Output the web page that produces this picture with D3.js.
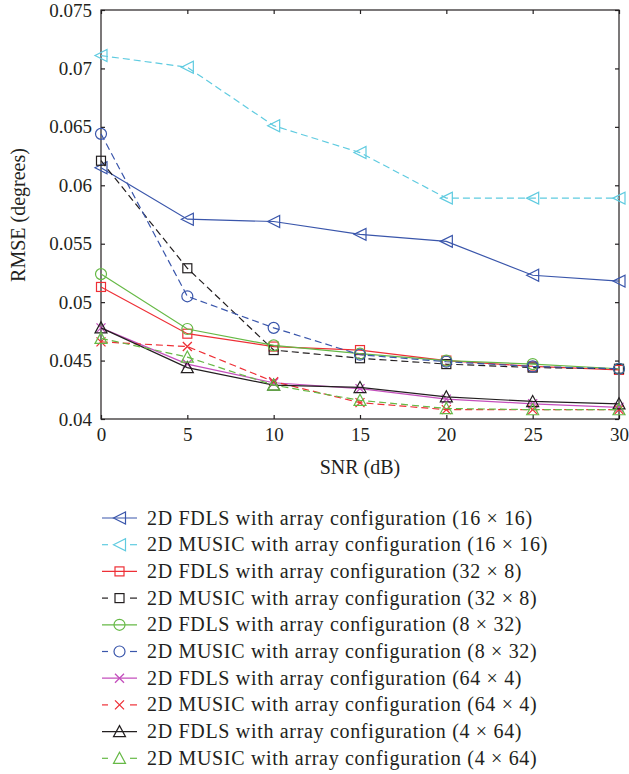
<!DOCTYPE html>
<html><head><meta charset="utf-8">
<script src="https://cdn.jsdelivr.net/npm/d3@7"></script>
<style>body{margin:0;background:#fff}svg{display:block}text{font-family:"Liberation Serif","DejaVu Serif",serif;fill:#231f20}</style>
</head><body><svg id="c" width="629" height="774"></svg>
<script>
const snr = [0, 5, 10, 15, 20, 25, 30];
const xTicks = [0, 5, 10, 15, 20, 25, 30];
const yTicks = [0.04, 0.045, 0.05, 0.055, 0.06, 0.065, 0.07, 0.075];
const yTickLabels = ["0.04", "0.045", "0.05", "0.055", "0.06", "0.065", "0.07", "0.075"];
const labels = [
  "2D FDLS with array configuration (16 × 16)",
  "2D MUSIC with array configuration (16 × 16)",
  "2D FDLS with array configuration (32 × 8)",
  "2D MUSIC with array configuration (32 × 8)",
  "2D FDLS with array configuration (8 × 32)",
  "2D MUSIC with array configuration (8 × 32)",
  "2D FDLS with array configuration (64 × 4)",
  "2D MUSIC with array configuration (64 × 4)",
  "2D FDLS with array configuration (4 × 64)",
  "2D MUSIC with array configuration (4 × 64)"
];
const fdls16x16  = [0.0615, 0.0571, 0.0569, 0.0558, 0.0552, 0.0523, 0.0518];
const music16x16 = [0.0711, 0.0701, 0.0651, 0.0628, 0.0589, 0.0589, 0.0589];
const fdls32x8   = [0.0513, 0.0473, 0.0462, 0.0459, 0.0450, 0.0445, 0.0442];
const music32x8  = [0.0621, 0.0529, 0.0459, 0.0452, 0.0447, 0.0444, 0.0443];
const fdls8x32   = [0.0524, 0.0477, 0.0463, 0.0456, 0.0450, 0.0447, 0.0443];
const music8x32  = [0.0644, 0.0505, 0.0478, 0.0455, 0.0449, 0.0445, 0.0443];
const fdls64x4   = [0.0478, 0.0447, 0.0431, 0.0426, 0.0417, 0.0413, 0.0410];
const music64x4  = [0.0466, 0.0462, 0.0432, 0.0414, 0.0408, 0.0408, 0.0408];
const fdls4x64   = [0.0478, 0.0444, 0.0429, 0.0427, 0.0419, 0.0415, 0.0413];
const music4x64  = [0.0469, 0.0453, 0.0429, 0.0416, 0.0409, 0.0408, 0.0408];

const seriesValues = [fdls16x16, music16x16, fdls32x8, music32x8, fdls8x32, music8x32, fdls64x4, music64x4, fdls4x64, music4x64];
const colors = ["#3a56ab", "#5fcbe0", "#ee2f36", "#231f20", "#66b946", "#3a56ab", "#c44fbd", "#ee2f36", "#231f20", "#66b946"];
const dashed = [false, true, false, true, false, true, false, true, false, true];
const markers = ["ltri", "ltri", "square", "square", "circle", "circle", "x", "x", "utri", "utri"];

const svg = d3.select("#c");
const m = {l: 101, t: 10, r: 619, b: 419};
const x = d3.scaleLinear().domain([0, 30]).range([m.l, m.r]);
const y = d3.scaleLinear().domain([0.04, 0.075]).range([m.b, m.t]);

svg.append("rect").attr("x", m.l).attr("y", m.t).attr("width", m.r - m.l).attr("height", m.b - m.t)
  .attr("fill", "none").attr("stroke", "#231f20").attr("stroke-width", 1.2);

const fs = 19;
const gx = svg.append("g").attr("transform", `translate(0,${m.b})`)
  .call(d3.axisBottom(x).tickValues(xTicks).tickSize(-4).tickPadding(9).tickFormat(d3.format("d")));
const gxt = svg.append("g").attr("transform", `translate(0,${m.t})`)
  .call(d3.axisTop(x).tickValues(xTicks).tickSize(-4).tickFormat(""));
const gy = svg.append("g").attr("transform", `translate(${m.l},0)`)
  .call(d3.axisLeft(y).tickValues(yTicks).tickSize(-4).tickPadding(9).tickFormat((d, i) => yTickLabels[i]));
const gyr = svg.append("g").attr("transform", `translate(${m.r},0)`)
  .call(d3.axisRight(y).tickValues(yTicks).tickSize(-4).tickFormat(""));
[gx, gxt, gy, gyr].forEach(g => {
  g.select(".domain").remove();
  g.selectAll("line").attr("stroke", "#231f20").attr("stroke-width", 1.2);
  g.selectAll("text").attr("font-size", fs).attr("font-family", '"Liberation Serif", serif').attr("fill", "#231f20");
});

svg.append("text").attr("x", 360).attr("y", 474).attr("text-anchor", "middle").attr("font-size", 20).text("SNR (dB)");
svg.append("text").attr("transform", "translate(25,215) rotate(-90)").attr("text-anchor", "middle").attr("font-size", 20).text("RMSE (degrees)");

function drawMarker(g, type, cx, cy, color) {
  const s = 6;
  if (type === "ltri") {
    g.append("path").attr("d", `M${cx - s},${cy} L${cx + s},${cy - s} L${cx + s},${cy + s} Z`)
      .attr("fill", "none").attr("stroke", color).attr("stroke-width", 1.2);
  } else if (type === "utri") {
    g.append("path").attr("d", `M${cx},${cy - s} L${cx + s},${cy + s * 0.85} L${cx - s},${cy + s * 0.85} Z`)
      .attr("fill", "none").attr("stroke", color).attr("stroke-width", 1.2);
  } else if (type === "square") {
    g.append("rect").attr("x", cx - 4.5).attr("y", cy - 4.5).attr("width", 9).attr("height", 9)
      .attr("fill", "none").attr("stroke", color).attr("stroke-width", 1.2);
  } else if (type === "circle") {
    g.append("circle").attr("cx", cx).attr("cy", cy).attr("r", 5.5)
      .attr("fill", "none").attr("stroke", color).attr("stroke-width", 1.2);
  } else if (type === "x") {
    const d = 4.5;
    g.append("path").attr("d", `M${cx - d},${cy - d} L${cx + d},${cy + d} M${cx - d},${cy + d} L${cx + d},${cy - d}`)
      .attr("fill", "none").attr("stroke", color).attr("stroke-width", 1.3);
  }
}

const line = d3.line().x((d, i) => x(snr[i])).y(d => y(d));
seriesValues.forEach((vals, k) => {
  const g = svg.append("g");
  g.append("path").attr("d", line(vals)).attr("fill", "none").attr("stroke", colors[k])
    .attr("stroke-width", 1.2).attr("stroke-dasharray", dashed[k] ? "7,4" : null);
  vals.forEach((v, i) => drawMarker(g, markers[k], x(snr[i]), y(v), colors[k]));
});

const ly0 = 518, lstep = 26.7;
labels.forEach((lab, k) => {
  const cy = ly0 + k * lstep;
  const g = svg.append("g");
  if (dashed[k]) {
    g.append("line").attr("x1", 102).attr("x2", 108).attr("y1", cy).attr("y2", cy).attr("stroke", colors[k]).attr("stroke-width", 1.2);
    g.append("line").attr("x1", 130).attr("x2", 137).attr("y1", cy).attr("y2", cy).attr("stroke", colors[k]).attr("stroke-width", 1.2);
  } else {
    g.append("line").attr("x1", 102).attr("x2", 137).attr("y1", cy).attr("y2", cy).attr("stroke", colors[k]).attr("stroke-width", 1.2);
  }
  drawMarker(g, markers[k], 119.5, cy, colors[k]);
  g.append("text").attr("x", 147).attr("y", cy + 6.5).attr("font-size", 20).attr("letter-spacing", 0.68).text(lab);
});
</script></body></html>
